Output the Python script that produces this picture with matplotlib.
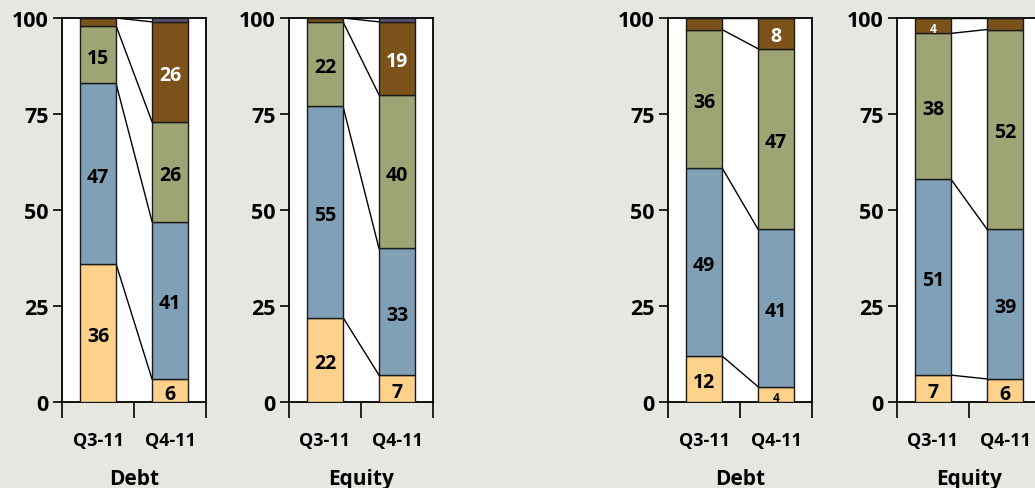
import matplotlib.pyplot as plt
import numpy as np

# Quarters on the x axis of every panel
categories = ["Q3-11", "Q4-11"]

# Panel titles, left to right
panel_titles = ["Debt", "Equity", "Debt", "Equity"]

# Stacked shares (%) from bottom to top: orange, blue, green, brown, purple
debt_left_q3 = [36, 47, 15, 2, 0]
debt_left_q4 = [6, 41, 26, 26, 1]
equity_left_q3 = [22, 55, 22, 1, 0]
equity_left_q4 = [7, 33, 40, 19, 1]
debt_right_q3 = [12, 49, 36, 3, 0]
debt_right_q4 = [4, 41, 47, 8, 0]
equity_right_q3 = [7, 51, 38, 4, 0]
equity_right_q4 = [6, 39, 52, 3, 0]

panels = [
    (debt_left_q3, debt_left_q4),
    (equity_left_q3, equity_left_q4),
    (debt_right_q3, debt_right_q4),
    (equity_right_q3, equity_right_q4),
]

segment_colors = ["#ffd28c", "#7fa0b6", "#9ea474", "#7b521a", "#5b5272"]
label_colors = ["black", "black", "black", "white", "white"]

background = "#e7e7e2"
bar_width = 0.5
weight = "bold"

# Axes boxes in pixels: (left, right, top, bottom)
fig_w, fig_h = 1035, 489
panel_boxes = [
    (62, 206, 19, 403),
    (289, 433, 19, 403),
    (668, 812, 19, 403),
    (897, 1041, 19, 403),
]

plt.rcParams["font.family"] = ["Open Sans", "DejaVu Sans"]

fig = plt.figure(figsize=(fig_w / 100, fig_h / 100), dpi=100)
fig.patch.set_facecolor(background)

for (q3, q4), title, (left, right, top, bottom) in zip(panels, panel_titles, panel_boxes):
    ax = fig.add_axes(
        [left / fig_w, 1 - bottom / fig_h, (right - left) / fig_w, (bottom - top) / fig_h]
    )
    ax.set_facecolor("white")

    # Draw the stacked bars
    x = np.arange(len(categories))
    stacks = np.array([q3, q4])
    bottoms = np.zeros(len(categories))
    for seg in range(stacks.shape[1]):
        values = stacks[:, seg]
        ax.bar(
            x,
            values,
            bar_width,
            bottom=bottoms,
            color=segment_colors[seg],
            edgecolor="#1a1a1a",
            linewidth=1.0,
            zorder=3,
        )
        # Value labels inside the segments
        for xi, v, b in zip(x, values, bottoms):
            if v < 4:
                continue
            ax.text(
                xi,
                b + v / 2 - 0.8,
                str(v),
                ha="center",
                va="center",
                color=label_colors[seg],
                fontsize=8.5 if v < 5 else 14,
                fontweight=weight,
                zorder=4,
            )
        bottoms = bottoms + values

    # Connector lines between the segment tops of both quarters
    cum_q3 = np.cumsum(q3)
    cum_q4 = np.cumsum(q4)
    for k in range(4):
        ax.plot(
            [x[0] + bar_width / 2, x[1] - bar_width / 2],
            [cum_q3[k], cum_q4[k]],
            color="black",
            linewidth=1.0,
            zorder=2,
        )

    ax.set_xlim(-0.5, 1.5)
    ax.set_ylim(0, 100)

    # Y axis ticks
    ax.set_yticks([0, 25, 50, 75, 100])
    ax.tick_params(
        axis="y", direction="out", length=6.5, width=1.2, pad=3,
        labelsize=15.5,
    )
    for lbl in ax.get_yticklabels():
        lbl.set_fontweight(weight)

    # X axis: separators as major ticks, quarter names as minor labels
    ax.set_xticks([-0.5, 0.5, 1.5])
    ax.set_xticklabels([])
    ax.tick_params(axis="x", which="major", direction="out", length=11.5, width=1.2)
    ax.set_xticks(x, minor=True)
    ax.set_xticklabels(categories, minor=True)
    ax.tick_params(axis="x", which="minor", length=0, pad=21, labelsize=13)
    for lbl in ax.get_xticklabels(minor=True):
        lbl.set_fontweight(weight)

    for spine in ax.spines.values():
        spine.set_linewidth(1.3)
        spine.set_color("black")

    # Panel title under the axis
    ax.text(
        0.5,
        -0.2,
        title,
        transform=ax.transAxes,
        ha="center",
        va="center",
        fontsize=15,
        fontweight="bold",
    )

fig.savefig("out.png", dpi=100, facecolor=background)
